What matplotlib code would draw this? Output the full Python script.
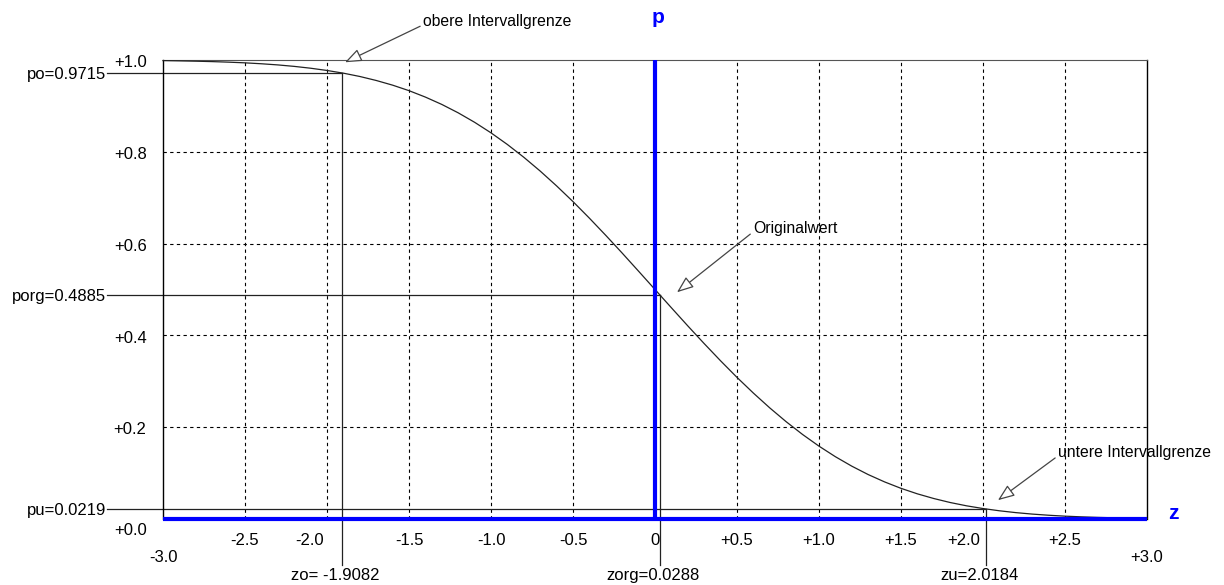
import matplotlib
matplotlib.use('Agg')
import matplotlib.pyplot as plt

plt.rcParams['font.family'] = ['Liberation Sans', 'DejaVu Sans']

# curve (step 0.1 in z)
z_vals = [-3.0, -2.9, -2.8, -2.7, -2.6, -2.5, -2.4, -2.3, -2.2, -2.1,
          -2.0, -1.9, -1.8, -1.7, -1.6, -1.5, -1.4, -1.3, -1.2, -1.1,
          -1.0, -0.9, -0.8, -0.7, -0.6, -0.5, -0.4, -0.3, -0.2, -0.1,
          0.0, 0.1, 0.2, 0.3, 0.4, 0.5, 0.6, 0.7, 0.8, 0.9,
          1.0, 1.1, 1.2, 1.3, 1.4, 1.5, 1.6, 1.7, 1.8, 1.9,
          2.0, 2.1, 2.2, 2.3, 2.4, 2.5, 2.6, 2.7, 2.8, 2.9, 3.0]
p_vals = [0.9987, 0.9981, 0.9974, 0.9965, 0.9953, 0.9938, 0.9918, 0.9893, 0.9861, 0.9821,
          0.9772, 0.9713, 0.9641, 0.9554, 0.9452, 0.9332, 0.9192, 0.9032, 0.8849, 0.8643,
          0.8413, 0.8159, 0.7881, 0.7580, 0.7257, 0.6915, 0.6554, 0.6179, 0.5793, 0.5398,
          0.5000, 0.4602, 0.4207, 0.3821, 0.3446, 0.3085, 0.2743, 0.2420, 0.2119, 0.1841,
          0.1587, 0.1357, 0.1151, 0.0968, 0.0808, 0.0668, 0.0548, 0.0446, 0.0359, 0.0287,
          0.0228, 0.0179, 0.0139, 0.0107, 0.0082, 0.0062, 0.0047, 0.0035, 0.0026, 0.0019, 0.0013]

# marked points: label name, z, p
marks_z = [-1.9082, 0.0288, 2.0184]
marks_p = [0.9715, 0.4885, 0.0219]
p_names = ['po', 'porg', 'pu']
z_names = ['zo= ', 'zorg=', 'zu=']

x_ticks = [-3.0, -2.5, -2.0, -1.5, -1.0, -0.5, 0.0, 0.5, 1.0, 1.5, 2.0, 2.5, 3.0]
x_labels = ['-3.0', '-2.5', '-2.0', '-1.5', '-1.0', '-0.5', '0',
            '+0.5', '+1.0', '+1.5', '+2.0', '+2.5', '+3.0']
y_ticks = [0.0, 0.2, 0.4, 0.6, 0.8, 1.0]
y_labels = ['+0.0', '+0.2', '+0.4', '+0.6', '+0.8', '+1.0']

FS = 12
FS_ANN = 11.3

fig = plt.figure(figsize=(12.24, 5.85), dpi=100)
ax = fig.add_axes([163 / 1224, 1 - 519 / 585, 984 / 1224, 459 / 585])
ax.set_xlim(-3, 3)
ax.set_ylim(0, 1)
ax.set_xticks([])
ax.set_yticks([])
for s in ('left', 'right'):
    ax.spines[s].set_color('black')
    ax.spines[s].set_linewidth(1.0)
ax.spines['top'].set_color('#555555')
ax.spines['bottom'].set_visible(False)

# dashed grid
for x in x_ticks[1:-1]:
    if x != 0:
        ax.axvline(x, color='black', lw=0.8, ls=(0, (3, 3)), zorder=1)
for y in y_ticks[1:-1]:
    ax.axhline(y, color='black', lw=0.8, ls=(0, (3, 3)), zorder=1)

# blue axes
ax.plot([-3, 3], [0, 0], color='#0000ff', lw=3, zorder=4, clip_on=False,
        solid_capstyle='butt')
ax.plot([0, 0], [0, 1], color='#0000ff', lw=3, zorder=4, clip_on=False,
        solid_capstyle='butt')
ax.text(0.018, 1.092, 'p', color='#0000ff', fontsize=15, fontweight='bold',
        ha='center', va='center')
ax.text(3.16, 0.013, 'z', color='#0000ff', fontsize=15, fontweight='bold',
        ha='center', va='center')

# curve
ax.plot(z_vals, p_vals, color='#222222', lw=0.9, zorder=3, clip_on=False)

# tick labels
for x, lab in zip(x_ticks, x_labels):
    if x in (-3.0, 3.0):
        ax.text(x, -0.083, lab, ha='center', va='center', fontsize=FS)
    elif x in (-2.0, 2.0):
        ax.text(x - 0.02, -0.046, lab, ha='right', va='center', fontsize=FS)
    else:
        ax.text(x, -0.046, lab, ha='center', va='center', fontsize=FS)
for y, lab in zip(y_ticks, y_labels):
    yy = -0.024 if y == 0 else y - 0.006
    ax.text(-3.1, yy, lab, ha='right', va='center', fontsize=FS)

# marked points with reference lines
x_left = -3.34
for zm, pm, pn, zn in zip(marks_z, marks_p, p_names, z_names):
    ax.plot([x_left, zm], [pm, pm], color='#222222', lw=0.9, zorder=2, clip_on=False)
    ax.plot([zm, zm], [pm, -0.1], color='#222222', lw=0.9, zorder=2, clip_on=False)
    ax.text(x_left - 0.005, pm - 0.004, f'{pn}={pm:.4f}', ha='right', va='center',
            fontsize=FS)
    ax.text(zm - 0.04, -0.124, f'{zn}{zm:.4f}', ha='center', va='center', fontsize=FS)

# annotations
arrow = dict(arrowstyle='-|>,head_length=0.9,head_width=0.35', fc='white',
             ec='#444444', lw=0.9, shrinkA=0, shrinkB=0, relpos=(0, 0.3))
ax.annotate('obere Intervallgrenze', xy=(-1.89, 0.995), xytext=(-1.415, 1.083),
            ha='left', va='center', fontsize=FS_ANN, arrowprops=arrow,
            annotation_clip=False)
ax.annotate('Originalwert', xy=(0.134, 0.494), xytext=(0.598, 0.632),
            ha='left', va='center', fontsize=FS_ANN, arrowprops=arrow,
            annotation_clip=False)
ax.annotate('untere Intervallgrenze', xy=(2.091, 0.041), xytext=(2.457, 0.144),
            ha='left', va='center', fontsize=FS_ANN, arrowprops=arrow,
            annotation_clip=False)

fig.savefig('out.png', dpi=100, facecolor='white')
